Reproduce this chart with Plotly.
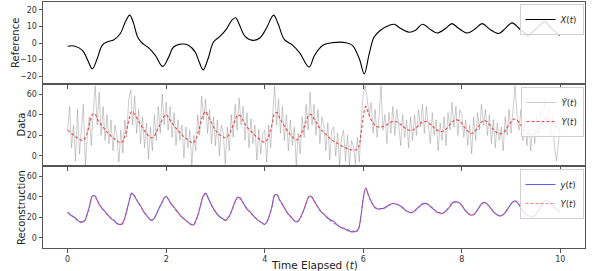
import plotly.graph_objects as go
from plotly.subplots import make_subplots

# ---------------- data ----------------
# Reference signal X(t) (irregular sample points)
t_ref = [0.0, 0.13, 0.30, 0.41, 0.50, 0.60, 0.70, 0.80, 0.94, 1.07, 1.17, 1.26, 1.34, 1.42,
         1.51, 1.64, 1.78, 1.93, 2.05, 2.15, 2.32, 2.45, 2.59, 2.67, 2.75, 2.85, 2.96, 3.09,
         3.23, 3.33, 3.41, 3.49, 3.60, 3.76, 3.90, 4.03, 4.18, 4.27, 4.40, 4.57, 4.71, 4.90,
         5.01, 5.18, 5.38, 5.65, 5.78, 5.92, 6.02, 6.12, 6.22, 6.35, 6.53, 6.63, 6.76, 6.93,
         7.06, 7.20, 7.37, 7.50, 7.67, 7.80, 7.94, 8.11, 8.28, 8.41, 8.58, 8.75, 8.88, 9.02,
         9.19, 9.35, 9.49, 9.68, 9.82, 9.99]
x_ref = [-2.0, -1.8, -4.4, -10.5, -15.6, -9.5, -1.4, 0.6, 2.0, 5.7, 12.7, 16.8, 11.7, 3.6,
         0.0, -2.8, -7.5, -14.1, -8.5, -2.4, -0.6, -1.4, -5.5, -11.5, -16.2, -9.5, 0.6, 4.0,
         8.7, 13.7, 15.2, 10.7, 4.0, 1.6, 3.0, 8.7, 16.8, 11.7, 2.0, -1.4, -6.0, -14.5,
         -7.5, -1.4, 0.2, 0.2, -1.4, -9.5, -18.6, -6.5, 3.6, 7.7, 10.7, 11.3, 8.7, 6.5,
         7.7, 11.3, 8.0, 6.0, 8.7, 11.7, 8.7, 6.0, 8.7, 11.7, 8.0, 5.7, 8.7, 12.1,
         8.0, 5.0, 8.0, 12.7, 8.7, 4.6]

# Clean output Y(t) on a 0.05 grid
t_grid = [round(i * 0.05, 2) for i in range(201)]
Y_true = [25, 23, 21, 19, 17.3, 16, 15, 17, 23, 32, 40, 41, 36, 32, 29, 26, 23, 21, 18, 16.5,
          14.5, 13, 13, 18, 26, 36, 43, 41, 37, 33, 29, 25, 22, 19, 17.6, 18.5, 23, 28, 33, 38,
          40, 37, 33, 30, 27, 24, 21.5, 19, 17, 15, 13.5, 12.5, 16, 23, 32, 40, 43, 39, 34, 29,
          25, 22, 20, 18.5, 17.6, 19, 23, 29, 35, 39.5, 39, 35, 31, 27.5, 25, 22.5, 20, 18, 16, 14,
          13.5, 16, 22, 31, 41, 42, 37, 33, 29, 25, 22, 19, 16.7, 15.5, 17.5, 22, 28, 35, 40, 40,
          36, 32, 28, 25, 23, 20.5, 18, 16, 14, 13, 11.5, 10, 9, 7.5, 6.5, 6, 5.5, 6, 8, 20,
          38, 48, 42, 36, 32, 29, 28, 28, 28.5, 29.5, 31, 32.5, 33.4, 33.4, 32.5, 31, 29, 27, 25.5, 24.7,
          25, 26.5, 28.5, 31, 33, 33.4, 33, 31, 29, 27, 25, 24, 23.7, 25, 27, 30, 33, 34.5, 35, 34,
          31.5, 28, 25, 23, 22, 23, 26, 29.5, 33, 34.3, 33.5, 31, 28, 25, 23, 21.8, 21.5, 23, 26, 29.5,
          33, 35.5, 35.5, 33, 29.5, 26, 23, 21.5, 21, 21, 22.5, 26, 30, 34, 36.5, 36, 33.5, 31, 29, 27,
          25]

# Reconstruction y(t) on the same grid
y_rec = [25, 22.5, 21, 19.5, 17, 15.5, 15.5, 17, 23.5, 32, 40.5, 41, 36.5, 32, 28.5, 26, 23, 20.5, 18, 16.5,
         14, 13, 13.5, 18, 26.5, 36, 43.5, 41, 37, 33, 29.5, 25, 22, 19, 17, 18.5, 23, 28.5, 33, 38,
         40.5, 37, 33, 30.5, 27, 24, 21, 19, 17, 15, 13, 12.5, 16.5, 23, 32, 40.5, 43.5, 39, 34, 29,
         25.5, 22, 20, 18.5, 17, 19, 23, 29, 35.5, 39.5, 38.5, 35, 31, 27.5, 25.5, 22.5, 20, 17.5, 16, 14.5,
         13, 16, 22.5, 31, 41.5, 42, 37, 33.5, 29, 25, 22, 19.5, 16.5, 15.5, 17.5, 22.5, 28, 35, 40.5, 40,
         36, 32, 28.5, 25, 23, 20.5, 18.5, 17, 16, 13.5, 11.5, 10, 9.5, 8, 7.5, 6, 6.5, 6, 8.5, 20,
         38.5, 48.5, 42, 36.5, 32, 29, 28, 28.5, 28.5, 29.5, 31.5, 32.5, 33.4, 33, 32.5, 31, 29.5, 27, 25.5, 24.5,
         25, 26.5, 29, 31, 33, 33.5, 33, 31, 29, 27, 25, 24.5, 23.5, 25, 27.5, 30, 33.5, 35, 35, 34,
         31.5, 28, 25, 23, 22, 23, 26, 29.5, 33, 34.5, 33.5, 31, 28, 25, 23, 21.5, 21.5, 23, 26, 29.5,
         33, 35.5, 35.5, 33, 29.5, 26, 23, 21.5, 20.5, 21, 22.5, 26, 30, 34, 36.5, 36, 33.5, 31, 29, 27,
         25]

# Noisy observations Ỹ(t) on a 0.04 grid
t_noisy = [round(i * 0.04, 2) for i in range(251)]
Y_noisy = [25, 48, 8, 30, -5, 45, 2, 28, 50, -10, 22, 38, 10, 44, 68, 30, 62, 20, 48, 15, 40, 12, 35, 5, 30,
           20, -6, 25, 3, 35, 18, 55, 64, 30, 58, 22, 45, 12, 38, 8, 32, -3, 28, 5, 40, 15, 48, 22, 60, 30,
           52, 25, 48, 18, 42, 10, 35, 15, 30, -2, 28, 8, 25, -9, 20, 5, 40, 20, 58, 35, 55, 22, 45, 12, 38,
           10, 35, 0, 30, 22, -8, 28, 5, 40, 18, 50, 25, 56, 30, 48, 15, 42, 8, 36, 12, 30, -4, 26, 2, 22,
           25, -6, 30, 8, 45, 68, 30, 55, 22, 48, 15, 40, 5, 35, 10, 28, -9, 22, 2, 38, 18, 50, 25, 62, 30,
           50, 20, 45, 12, 38, 30, 5, 32, -4, 25, 28, 0, 22, -9, 18, 25, -5, 20, -9, 15, 10, -8, 18, -6, 35,
           60, 68, 55, 40, 52, 22, 45, 18, 38, 68, 25, 40, 12, 42, 22, 48, 20, 45, 30, 10, 40, 18, 35, 8, 38,
           15, 40, 20, 45, 28, 50, 22, 48, 30, 12, 42, 20, 35, 5, 32, 15, 38, 10, 42, 25, 52, 28, 48, 20, 45,
           40, 18, 35, 10, 30, 2, 38, 15, 42, 25, 50, 30, 45, 20, 40, 12, 35, 8, 32, 15, 28, 5, 38, 20, 45,
           22, 50, 68, 40, 25, 45, 15, 38, 10, 30, 5, 35, 12, 40, 18, 45, 25, 55, 30, 48, 20, 40, 10, -5, 15,
           30]

x_ticks = [0, 2, 4, 6, 8, 10]
ref_ticks = [-20, -10, 0, 10, 20]
data_ticks = [0, 20, 40, 60]

# ---------------- figure ----------------
FONT = "DejaVu Sans"
W, H = 598, 271
ML, MR, MT, MB = 43, 13, 2, 23
fig = make_subplots(rows=3, cols=1, shared_xaxes=True, vertical_spacing=0)

fig.add_trace(go.Scatter(x=t_ref, y=x_ref, mode="lines", name="<i>X</i>(<i>t</i>)",
                         line=dict(color="black", width=1.1, shape="spline", smoothing=1.0),
                         legend="legend"), row=1, col=1)

fig.add_trace(go.Scatter(x=t_noisy, y=Y_noisy, mode="lines", name="<i>Ỹ</i>(<i>t</i>)",
                         line=dict(color="rgba(128,128,128,0.4)", width=1),
                         legend="legend2"), row=2, col=1)
fig.add_trace(go.Scatter(x=t_grid, y=Y_true, mode="lines", name="<i>Y</i>(<i>t</i>)",
                         line=dict(color="rgba(235,30,30,0.8)", width=1.1, dash="3px,2px", shape="spline"),
                         legend="legend2"), row=2, col=1)

fig.add_trace(go.Scatter(x=t_grid, y=y_rec, mode="lines", name="<i>y</i>(<i>t</i>)",
                         line=dict(color="rgba(40,40,240,0.75)", width=1.1, shape="spline"),
                         legend="legend3"), row=3, col=1)
fig.add_trace(go.Scatter(x=t_grid, y=Y_true, mode="lines", name="<i>Y</i>(<i>t</i>)",
                         line=dict(color="rgba(255,60,60,0.65)", width=1.1, dash="3px,2px", shape="spline"),
                         legend="legend3"), row=3, col=1)

axis_common = dict(showline=True, linecolor="#555", linewidth=1, mirror=True,
                   ticks="outside", ticklen=3.5, tickcolor="#555", tickwidth=0.8,
                   showgrid=False, zeroline=False, automargin=False,
                   tickfont=dict(family=FONT, size=8, color="#333"))

for r in (1, 2, 3):
    fig.update_xaxes(range=[-0.5, 10.5], tickvals=x_ticks, showticklabels=(r == 3),
                     row=r, col=1, **axis_common)

fig.update_yaxes(range=[-24.7, 24.7], tickvals=ref_ticks, row=1, col=1, **axis_common)
fig.update_yaxes(range=[-9.7, 69.7], tickvals=data_ticks, row=2, col=1, **axis_common)
fig.update_yaxes(range=[-9.9, 69.9], tickvals=data_ticks, row=3, col=1, **axis_common)

# axis titles placed as annotations (pixel-accurate)
pw, ph = W - ML - MR, H - MT - MB
def px_x(x):
    return (x - ML) / pw
def px_y(y):
    return 1 - (y - MT) / ph

title_font = dict(family=FONT, size=10, color="#222")
for text, xpix, ypix in [("Reference", 16, 43), ("Data", 21, 124.5), ("Reconstruction", 21, 208)]:
    fig.add_annotation(text=text, xref="paper", yref="paper", x=px_x(xpix), y=px_y(ypix),
                       xanchor="center", yanchor="middle", textangle=-90, showarrow=False,
                       font=title_font)
fig.add_annotation(text="Time Elapsed (<i>t</i>)", xref="paper", yref="paper",
                   x=px_x(314), y=px_y(265), xanchor="center", yanchor="middle", showarrow=False,
                   font=dict(family=FONT, size=10.5, color="#222"))

leg = dict(xanchor="right", yanchor="top", x=px_x(583.5), bgcolor="rgba(255,255,255,0.85)",
           bordercolor="#d0d0d0", borderwidth=1, itemwidth=30,
           font=dict(family=FONT, size=8.5, color="#222"), tracegroupgap=0)

fig.update_layout(
    width=W, height=H,
    margin=dict(l=ML, r=MR, t=MT, b=MB, autoexpand=False),
    paper_bgcolor="white", plot_bgcolor="white",
    font=dict(family=FONT),
    showlegend=True,
    legend=dict(y=px_y(4), **leg),
    legend2=dict(y=px_y(87), **leg),
    legend3=dict(y=px_y(169), **leg),
)

fig.write_html("out.html", config={"displayModeBar": False},
               post_script="document.body.style.margin='0';document.body.style.overflow='hidden';")
